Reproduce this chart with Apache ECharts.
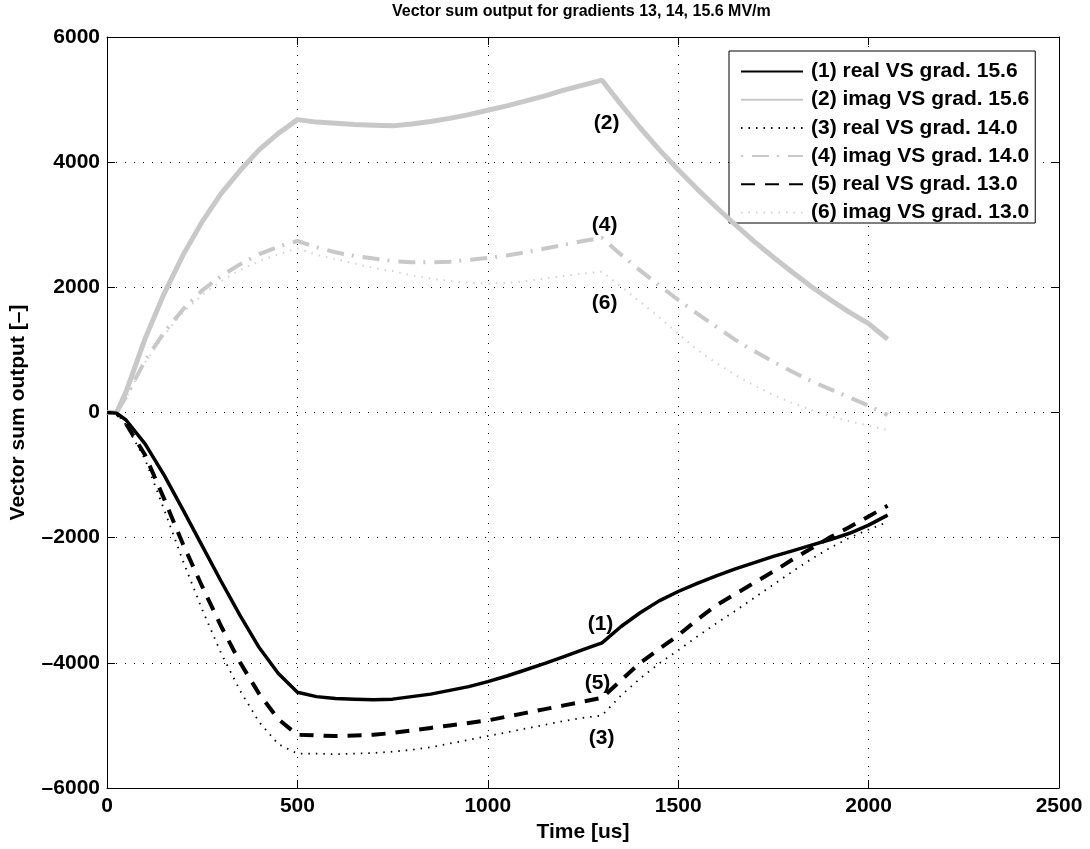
<!DOCTYPE html>
<html>
<head>
<meta charset="utf-8">
<script src="https://cdn.jsdelivr.net/npm/echarts@6/dist/echarts.min.js"></script>
<style>
  html, body { margin: 0; padding: 0; background: #fff; }
  #chart { width: 1090px; height: 849px; }
</style>
</head>
<body>
<div id="chart"></div>
<script>
// Sample times [us]
const timeUs = [0,25,50,100,150,200,250,300,350,400,450,500,550,600,650,700,750,800,850,900,950,1000,
  1050,1100,1150,1200,1250,1300,1350,1400,1450,1500,1550,1600,1650,1700,1750,1800,1850,1900,1950,2000,2050];

// Vector sum outputs
const realGrad156 = [0,-10,-120,-500,-1000,-1560,-2130,-2700,-3250,-3760,-4170,-4470,
  -4540,-4570,-4580,-4590,-4580,-4540,-4500,-4440,-4380,-4300,-4210,-4110,-4010,-3900,-3790,-3680,
  -3420,-3200,-3010,-2860,-2730,-2610,-2500,-2400,-2300,-2210,-2120,-2030,-1930,-1800,-1640];
const imagGrad156 = [0,0,330,1180,1900,2520,3050,3500,3870,4200,4460,4680,
  4640,4620,4600,4590,4580,4610,4650,4700,4760,4830,4900,4980,5060,5150,5230,5310,
  4920,4550,4200,3880,3570,3280,3000,2730,2480,2240,2010,1800,1600,1420,1170];
const realGrad140 = [0,-10,-200,-750,-1550,-2380,-3150,-3850,-4450,-4950,-5300,-5450,
  -5450,-5460,-5450,-5440,-5420,-5390,-5350,-5290,-5230,-5170,-5110,-5050,-4990,-4930,-4880,-4840,
  -4520,-4250,-4010,-3800,-3580,-3370,-3170,-2960,-2750,-2540,-2340,-2160,-2000,-1870,-1750];
const imagGrad140 = [0,0,250,830,1280,1650,1950,2180,2370,2530,2650,2740,
  2640,2560,2500,2460,2420,2400,2400,2410,2440,2470,2510,2560,2620,2680,2740,2790,
  2520,2270,2030,1800,1580,1370,1160,980,810,650,500,370,240,110,-40];
const realGrad130 = [0,-10,-180,-680,-1380,-2110,-2780,-3420,-4000,-4500,-4900,-5150,
  -5160,-5170,-5160,-5150,-5120,-5080,-5040,-5000,-4960,-4920,-4860,-4800,-4740,-4680,-4620,-4560,
  -4280,-4000,-3780,-3560,-3310,-3080,-2900,-2720,-2540,-2350,-2170,-1990,-1830,-1660,-1490];
const imagGrad130 = [0,0,230,800,1240,1600,1880,2100,2280,2420,2530,2620,
  2520,2450,2380,2310,2260,2190,2140,2100,2070,2060,2070,2100,2140,2180,2220,2250,
  2010,1770,1520,1260,1000,790,600,430,280,150,40,-60,-140,-210,-280];

const seriesNames = [
  '(1) real VS grad. 15.6',
  '(2) imag VS grad. 15.6',
  '(3) real VS grad. 14.0',
  '(4) imag VS grad. 14.0',
  '(5) real VS grad. 13.0',
  '(6) imag VS grad. 13.0'
];
// Curve tags and where they sit (time, output)
const tagText = ['(1)', '(2)', '(3)', '(4)', '(5)', '(6)'];
const tagAt = [[1296, -3390], [1312, 4626], [1299, -5200], [1307, 3000], [1288, -4320], [1307, 1750]];

const xTicks = { min: 0, max: 2500, step: 500 };
const yTicks = { min: -6000, max: 6000, step: 2000 };

const FONT = '"Liberation Sans", Arial, Helvetica, sans-serif';
const FS = 21;
const valueSets = [realGrad156, imagGrad156, realGrad140, imagGrad140, realGrad130, imagGrad130];
const styles = [
  { color: '#000000', width: 3.5, type: 'solid' },
  { color: '#c8c8c8', width: 5, type: 'solid' },
  { color: '#000000', width: 1.8, type: [1.5, 6] },
  { color: '#c8c8c8', width: 4, type: [2, 9, 17, 8] },
  { color: '#000000', width: 4, type: [14, 10] },
  { color: '#d2d2d2', width: 2, type: [1.5, 6] }
];

const series = valueSets.map((vals, i) => ({
  name: seriesNames[i],
  type: 'line',
  data: timeUs.map((t, k) => [t, vals[k]]),
  symbol: 'none',
  showSymbol: false,
  smooth: false,
  z: 10 - i,
  lineStyle: { color: styles[i].color, width: styles[i].width, type: styles[i].type, cap: 'butt' },
  itemStyle: { color: styles[i].color },
  markPoint: {
    symbol: 'circle',
    symbolSize: 0,
    silent: true,
    data: [{ coord: tagAt[i], value: tagText[i] }],
    label: {
      show: true,
      position: 'inside',
      formatter: tagText[i],
      color: '#000',
      fontSize: FS,
      fontWeight: 'bold',
      fontFamily: FONT
    }
  }
}));

const tickLabel = v => (v < 0 ? '\u2013' + Math.abs(v) : String(v));
const axisText = { color: '#000', fontSize: FS, fontWeight: 'bold', fontFamily: FONT };
const gridDots = { show: true, lineStyle: { color: '#000', width: 1, type: [1, 8] } };

const chart = echarts.init(document.getElementById('chart'), null, { renderer: 'canvas' });
chart.setOption({
  animation: false,
  backgroundColor: '#ffffff',
  grid: { left: 106, right: 31, top: 37, bottom: 61, containLabel: false },
  graphic: [{
    type: 'text',
    left: 392,
    top: 4,
    style: {
      text: 'Vector sum output for gradients 13, 14, 15.6 MV/m',
      fill: '#000',
      font: 'bold 16px ' + FONT
    }
  }],
  legend: {
    orient: 'vertical',
    left: 729,
    top: 51,
    padding: [10, 6, 0, 11],
    itemWidth: 62,
    itemHeight: 14,
    itemGap: 7.2,
    backgroundColor: '#fff',
    borderColor: '#000',
    borderWidth: 1,
    borderRadius: 0,
    data: seriesNames,
    itemStyle: { opacity: 0 },
    textStyle: { color: '#000', fontSize: FS, fontWeight: 'bold', fontFamily: FONT, lineHeight: 20, padding: [0, 0, 0, 3] }
  },
  xAxis: [{
    type: 'value',
    min: xTicks.min, max: xTicks.max, interval: xTicks.step,
    name: 'Time [us]',
    nameLocation: 'middle',
    nameGap: 31,
    nameTextStyle: axisText,
    axisLine: { show: true, onZero: false, lineStyle: { color: '#000', width: 1 } },
    axisTick: { show: true, inside: true, length: 8, lineStyle: { color: '#000' } },
    axisLabel: Object.assign({ margin: 8, formatter: tickLabel }, axisText),
    splitLine: gridDots
  }, {
    type: 'value', position: 'top',
    min: xTicks.min, max: xTicks.max, interval: xTicks.step,
    axisLine: { show: true, onZero: false, lineStyle: { color: '#000', width: 1 } },
    axisTick: { show: true, inside: true, length: 8, lineStyle: { color: '#000' } },
    axisLabel: { show: false },
    splitLine: { show: false }
  }],
  yAxis: [{
    type: 'value',
    min: yTicks.min, max: yTicks.max, interval: yTicks.step,
    name: 'Vector sum output [\u2013]',
    nameLocation: 'middle',
    nameGap: 78,
    nameTextStyle: axisText,
    axisLine: { show: true, onZero: false, lineStyle: { color: '#000', width: 1 } },
    axisTick: { show: true, inside: true, length: 8, lineStyle: { color: '#000' } },
    axisLabel: Object.assign({ margin: 7, formatter: tickLabel }, axisText),
    splitLine: gridDots
  }, {
    type: 'value', position: 'right',
    min: yTicks.min, max: yTicks.max, interval: yTicks.step,
    axisLine: { show: true, onZero: false, lineStyle: { color: '#000', width: 1 } },
    axisTick: { show: true, inside: true, length: 8, lineStyle: { color: '#000' } },
    axisLabel: { show: false },
    splitLine: { show: false }
  }],
  series: series
});
</script>
</body>
</html>
